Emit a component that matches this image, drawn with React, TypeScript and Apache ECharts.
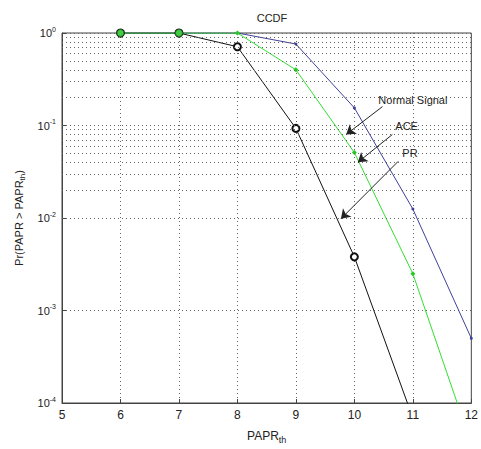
import React, { useEffect, useRef } from "react";
import * as echarts from "echarts";

const xValues = [6, 7, 8, 9, 10, 11, 12];
const normalSignal = [1, 1, 1, 0.76, 0.155, 0.0125, 0.0005];
const ace = [1, 1, 1, 0.4, 0.051, 0.0025, 0.000036];
const pr = [1, 1, 0.71, 0.093, 0.0038, 0.000069, null];
const minorTicks: number[] = [];
for (let e = -4; e < 0; e++) {
  for (let m = 2; m <= 9; m++) minorTicks.push(Number((m * Math.pow(10, e)).toPrecision(3)));
}
const majorTicks = [0.001, 0.01, 0.1];

const annotations = [
  { text: "Normal Signal", at: [10.41, 0.19], from: [10.48, 0.16], to: [9.86, 0.08] },
  { text: "ACE", at: [10.7, 0.098], from: [10.65, 0.08], to: [10.06, 0.04] },
  { text: "PR", at: [10.82, 0.051], from: [10.75, 0.041], to: [9.77, 0.0098] },
];

const FONT = "Liberation Sans, Arial, sans-serif";

export default function App() {
  const ref = useRef<HTMLDivElement>(null);
  useEffect(() => {
    const chart = echarts.init(ref.current!, undefined, { renderer: "svg" });
    const pair = (ys: (number | null)[]) => xValues.map((x, i) => [x, ys[i]]);
    const gridLine = { color: "#666", type: [1, 3] as number[], width: 1 };
    chart.setOption({
      animation: false,
      backgroundColor: "#fff",
      title: {
        text: "CCDF",
        left: 267,
        top: 7,
        textAlign: "center",
        textStyle: { fontFamily: FONT, fontSize: 11, fontWeight: "normal", color: "#222" },
      },
      grid: { left: 62, right: 4, top: 33, bottom: 44, show: true, borderColor: "#444", borderWidth: 1, backgroundColor: "transparent" },
      xAxis: {
        type: "value",
        min: 5,
        max: 12,
        interval: 1,
        name: "{a|PAPR}{s|th}",
        nameLocation: "middle",
        nameGap: 24,
        nameTextStyle: {
          rich: {
            a: { fontFamily: FONT, fontSize: 12, color: "#222" },
            s: { fontFamily: FONT, fontSize: 9, color: "#222", verticalAlign: "bottom", padding: [8, 0, 0, 0] },
          },
        },
        axisLine: { lineStyle: { color: "#444" } },
        axisTick: { inside: true, length: 4, lineStyle: { color: "#444" } },
        axisLabel: { fontFamily: FONT, fontSize: 12, color: "#222", margin: 6 },
        splitLine: { show: true, lineStyle: gridLine },
      },
      yAxis: {
        type: "log",
        logBase: 10,
        min: 0.0001,
        max: 1,
        name: "{a|Pr(PAPR > PAPR}{s|th}{a|)}",
        nameLocation: "middle",
        nameRotate: 90,
        nameGap: 36,
        nameTextStyle: {
          rich: {
            a: { fontFamily: FONT, fontSize: 11, color: "#222" },
            s: { fontFamily: FONT, fontSize: 8, color: "#222", verticalAlign: "bottom", padding: [7, 0, 0, 0] },
          },
        },
        axisLine: { lineStyle: { color: "#444" } },
        axisTick: { inside: true, length: 4, lineStyle: { color: "#444" } },
        axisLabel: {
          margin: 6,
          formatter: (v: number) => `{b|10}{e|${Math.round(Math.log10(v))}}`,
          rich: {
            b: { fontFamily: FONT, fontSize: 11, color: "#222" },
            e: { fontFamily: FONT, fontSize: 7, color: "#222", verticalAlign: "top", padding: [0, 0, 8, 0] },
          },
        },
        splitLine: { show: true, lineStyle: gridLine },
      },
      series: [
        {
          type: "line",
          data: [],
          silent: true,
          markLine: {
            silent: true,
            symbol: ["none", "none"],
            label: { show: false },
            lineStyle: gridLine,
            data: [...minorTicks, ...majorTicks].map((v) => ({ yAxis: v })),
          },
        },
        {
          name: "Normal Signal",
          type: "line",
          data: pair(normalSignal),
          color: "#40409a",
          lineStyle: { width: 1, color: "#40409a" },
          symbol: "circle",
          symbolSize: 3,
          itemStyle: { color: "#40409a" },
          clip: true,
        },
        {
          name: "PR",
          type: "line",
          data: pair(pr),
          color: "#111",
          lineStyle: { width: 1, color: "#111" },
          symbol: "emptyCircle",
          symbolSize: 7,
          itemStyle: { color: "#111", borderColor: "#111", borderWidth: 1 },
          clip: true,
        },
        {
          name: "ACE",
          type: "line",
          data: pair(ace).map((d, i) =>
            i < 2
              ? { value: d, symbol: "circle", symbolSize: 7, itemStyle: { color: "#44cc44", borderColor: "#227722", borderWidth: 1 } }
              : { value: d }
          ),
          color: "#33dd33",
          lineStyle: { width: 1, color: "#33dd33" },
          symbol: "diamond",
          symbolSize: 5,
          itemStyle: { color: "#22cc22" },
          clip: true,
        },
        {
          name: "annotations",
          type: "line",
          data: [],
          silent: true,
          markLine: {
            silent: true,
            symbol: ["none", "arrow"],
            symbolSize: 9,
            label: { show: false },
            itemStyle: { color: "#111" },
            lineStyle: { color: "#222", width: 1, type: "solid" },
            data: annotations.map((a) => [
              { coord: a.from },
              { coord: a.to },
            ]),
          },
          markPoint: {
            silent: true,
            symbol: "circle",
            symbolSize: 0,
            data: annotations.map((a) => ({
              coord: a.at,
              label: {
                show: true,
                position: "right",
                distance: 0,
                formatter: a.text,
                fontFamily: FONT,
                fontSize: 11,
                color: "#222",
              },
            })),
          },
        },
      ],
    });
    return () => chart.dispose();
  }, []);
  return <div ref={ref} style={{ width: 481, height: 449, position: "absolute", left: 0, top: 0 }} />;
}
